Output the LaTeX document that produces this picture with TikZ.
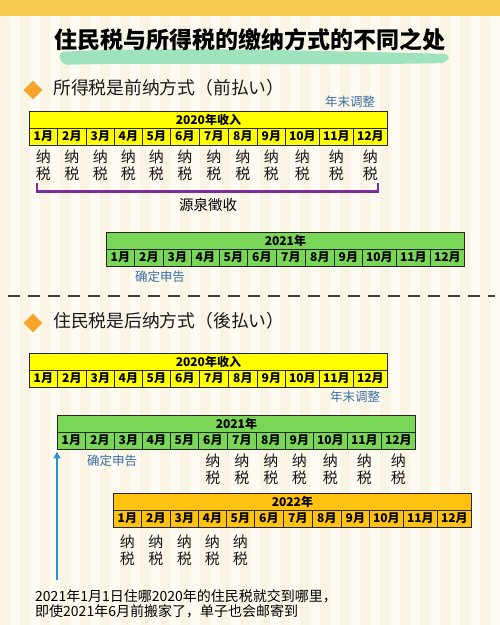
\documentclass[tikz,border=0pt]{standalone}
\usepackage{fontspec}
\setmainfont{Noto Sans CJK SC}
\usetikzlibrary{positioning,arrows.meta,shapes.geometric}
\definecolor{bandyellow}{HTML}{F6CB50}
\definecolor{bgcream}{HTML}{FEFBF2}
\definecolor{bgstripe}{HTML}{F9F4E4}
\definecolor{mint}{HTML}{9FE3BE}
\definecolor{tabyellow}{HTML}{FFFF00}
\definecolor{tabgreen}{HTML}{7AD657}
\definecolor{taborange}{HTML}{FFC20E}
\definecolor{noteblue}{HTML}{3D6FA6}
\definecolor{arrowblue}{HTML}{2696CF}
\definecolor{brkpurple}{HTML}{7D2C9C}
\definecolor{diaorange}{HTML}{F8A42A}
\tikzset{
  cell/.style={draw=black!85, line width=0.8pt, inner sep=0pt,
    font=\bfseries\fontsize{12}{12}\selectfont},
  pay/.style={align=center, inner sep=0pt, text=black!90,
    font=\fontsize{15}{17}\selectfont},
  note/.style={text=noteblue, inner sep=0pt, font=\fontsize{12.5}{12.5}\selectfont},
  head/.style={anchor=west, inner sep=0pt, text=black!90, font=\fontsize{17.8}{17.8}\selectfont},
  bullet/.style={diamond, fill=diaorange, inner sep=0pt, minimum size=19pt},
}
% one year: header row + 12 month cells
\newcommand\yeartable[5]{%
  \node[cell, fill=#4, minimum width=358pt, minimum height=17pt, anchor=north west] (#1-h) at (#2,#3) {#5};
  \foreach \m/\lo/\hi in {1/0/28,2/28/57,3/57/85,4/85/113,5/113/141,6/141/170,
      7/170/199,8/199/228,9/228/256,10/256/290,11/290/324,12/324/358}
    \node[cell, fill=#4, minimum width={(\hi-\lo)*1pt}, minimum height=16.5pt,
      anchor=north west] (#1-\m) at ({#2+\lo},{#3+17}) {\m 月};
}
\begin{document}
\begin{tikzpicture}[x=1pt,y=-1pt]
\useasboundingbox (0,0) rectangle (500,625);
\fill[bgcream] (0,0) rectangle (500,625);
\foreach \x in {0,20,...,480} \fill[bgstripe] (\x,16) rectangle ++(10,609);
\fill[bandyellow] (0,0) rectangle (500,16);

% title
\fill[mint, rounded corners=6pt] (58,52) .. controls (150,47) and (300,50) .. (450,54)
  -- (447,63) .. controls (300,66) and (150,62) .. (62,65) -- cycle;
\node[inner sep=0pt, font=\bfseries\fontsize{23}{23}\selectfont] (title) at (250,40)
  {住民税与所得税的缴纳方式的不同之处};

% part 1
\node[bullet] (s1) at (33,90) {};
\node[head] (h1) at (53,88) {所得税是前纳方式（前払い）};
\node[note] (adj1) at (350,102) {年末调整};
\yeartable{a}{29}{111}{tabyellow}{2020年收入}
\foreach \m in {1,...,12} \node[pay, below=4pt of a-\m] (pa-\m) {纳\\税};
\draw[brkpurple, line width=2.5pt] ([xshift=1.5pt,yshift=-2pt]pa-1.south west)
  |- ([yshift=-11pt]pa-12.south east) -- ([yshift=-2pt]pa-12.south east);
\node[inner sep=0pt, font=\fontsize{14.5}{14.5}\selectfont] (gensen) at (208,205) {源泉徵收};
\yeartable{b}{106}{232}{tabgreen}{2021年}
\node[note] (kak1) at (160,277) {确定申告};

\draw[black!75, line width=2.5pt, dash pattern=on 12pt off 8pt] (8,296) -- (495,296);

% part 2
\node[bullet] (s2) at (33,323) {};
\node[head] (h2) at (53,321) {住民税是后纳方式（後払い）};
\yeartable{c}{29}{353}{tabyellow}{2020年收入}
\node[note] (adj2) at (355,397) {年末调整};
\yeartable{d}{57}{415}{tabgreen}{2021年}
\node[note] (kak2) at (112,461) {确定申告};
\foreach \m in {6,...,12} \node[pay, below=4pt of d-\m] (pd-\m) {纳\\税};
\yeartable{e}{113}{493}{taborange}{2022年}
\foreach \m in {1,...,5} \node[pay, below=7pt of e-\m] (pe-\m) {纳\\税};

\coordinate (arrbase) at (57,580);
\draw[arrowblue, line width=2.5pt, -{Latex[length=7pt,width=8pt]}] (arrbase) -- ([yshift=-2pt]d-1.south west);

\node[anchor=north west, align=left, inner sep=0pt, text=black,
  font=\fontsize{14}{15.5}\selectfont] (memo) at (35,589)
  {2021年1月1日住哪2020年的住民税就交到哪里，\\即使2021年6月前搬家了，单子也会邮寄到};
\end{tikzpicture}
\end{document}
